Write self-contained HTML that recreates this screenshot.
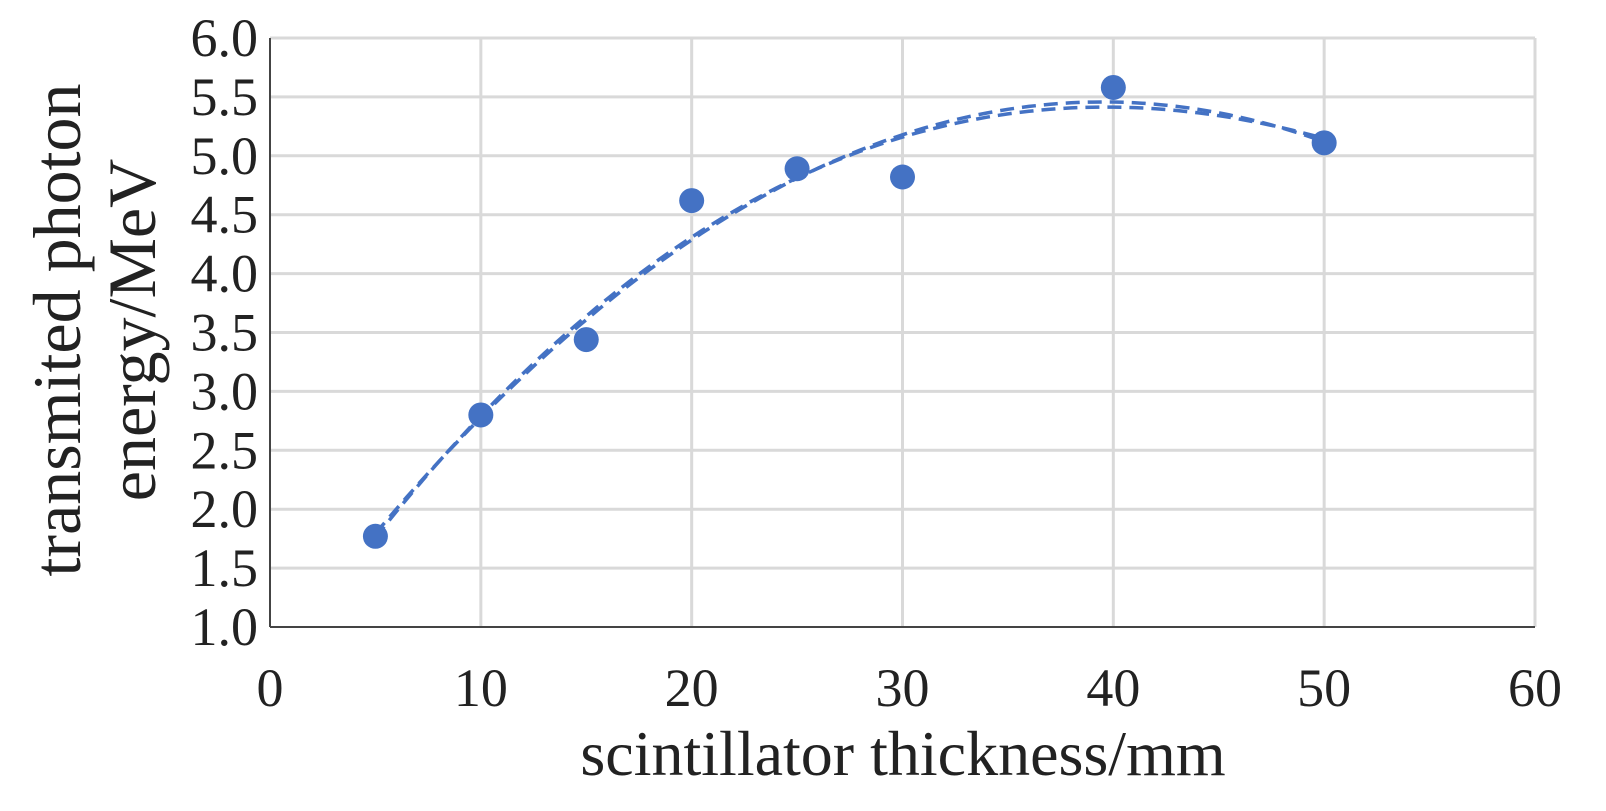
<!DOCTYPE html>
<html><head><meta charset="utf-8"><style>
html,body{margin:0;padding:0;background:#fff;}
svg{display:block;font-family:"Liberation Serif",serif;}
</style></head><body>
<svg id="chart" width="1606" height="811" viewBox="0 0 1606 811" xmlns="http://www.w3.org/2000/svg">
<g id="grid"></g>
<g id="axes"></g>
<g id="trend"></g>
<g id="points"></g>
<g id="ticks"></g>
<text x="903" y="775" font-size="64" text-anchor="middle" fill="#222">scintillator thickness/mm</text>
<g transform="translate(0,330) rotate(-90)">
<text x="0" y="80" font-size="68" text-anchor="middle" fill="#222">transmited photon</text>
<text x="0" y="155" font-size="68" text-anchor="middle" fill="#222">energy/MeV</text>
</g>
</svg>
<script>
const xValues=[5,10,15,20,25,30,40,50];
const yValues=[1.77,2.80,3.44,4.62,4.89,4.82,5.58,5.11];
const xTicks=[0,10,20,30,40,50,60];
const yTicks=[1.0,1.5,2.0,2.5,3.0,3.5,4.0,4.5,5.0,5.5,6.0];
const NS="http://www.w3.org/2000/svg";
const X0=270,X1=1535,Y0=627,Y1=38;
const xs=v=>X0+(v-0)/(60-0)*(X1-X0);
const ys=v=>Y0-(v-1)/(6-1)*(Y0-Y1);
function mk(tag,attrs,parent){const e=document.createElementNS(NS,tag);for(const k in attrs)e.setAttribute(k,attrs[k]);parent.appendChild(e);return e;}
const grid=document.getElementById('grid'),axes=document.getElementById('axes'),ticks=document.getElementById('ticks');
yTicks.forEach(t=>{if(t===1)return;const l=mk('line',{x1:X0,x2:X1,y1:ys(t),y2:ys(t),stroke:'#d9d9d9','stroke-width':3},grid);

});
xTicks.forEach(t=>{if(t===0)return;const l=mk('line',{x1:xs(t),x2:xs(t),y1:Y1,y2:Y0,stroke:'#d9d9d9','stroke-width':3},grid);

});
const ax=mk('line',{x1:X0,x2:X1,y1:Y0,y2:Y0,stroke:'#444','stroke-width':2},axes);


const ay=mk('line',{x1:X0,x2:X0,y1:Y1,y2:Y0,stroke:'#444','stroke-width':2},axes);


yTicks.forEach(t=>{const e=mk('text',{x:258,y:ys(t)+18,'font-size':54,'text-anchor':'end',fill:'#222'},ticks);e.textContent=t.toFixed(1);

});
xTicks.forEach(t=>{const e=mk('text',{x:xs(t),y:706,'font-size':54,'text-anchor':'middle',fill:'#222'},ticks);e.textContent=t;

});
function polyfit(xa,ya,deg){const n=deg+1;const A=[];for(let i=0;i<n;i++){A.push([]);for(let j=0;j<n;j++){let s=0;xa.forEach(x=>s+=Math.pow(x,i+j));A[i].push(s);}let s=0;xa.forEach((x,k)=>s+=ya[k]*Math.pow(x,i));A[i].push(s);}
for(let i=0;i<n;i++){let p=i;for(let r=i+1;r<n;r++)if(Math.abs(A[r][i])>Math.abs(A[p][i]))p=r;[A[i],A[p]]=[A[p],A[i]];for(let r=0;r<n;r++){if(r===i)continue;const f=A[r][i]/A[i][i];for(let c=i;c<=n;c++)A[r][c]-=f*A[i][c];}}
return A.map((r,i)=>r[n]/r[i]);}
const trend=document.getElementById('trend');
[2,3].forEach(d=>{const c=polyfit(xValues,yValues,d);let pts=[];for(let x=xValues[0];x<=xValues[xValues.length-1]+0.01;x+=0.5){let y=0;c.forEach((a,i)=>y+=a*Math.pow(x,i));pts.push(xs(x).toFixed(1)+','+ys(y).toFixed(1));}
const p=mk('polyline',{points:pts.join(' '),fill:'none',stroke:'#4472c4','stroke-width':3.5,'stroke-dasharray':'14,8'},trend);

});
const pg=document.getElementById('points');
xValues.forEach((x,i)=>{const c=mk('circle',{cx:xs(x),cy:ys(yValues[i]),r:12.5,fill:'#4472c4'},pg);

});
</script>
</body></html>
